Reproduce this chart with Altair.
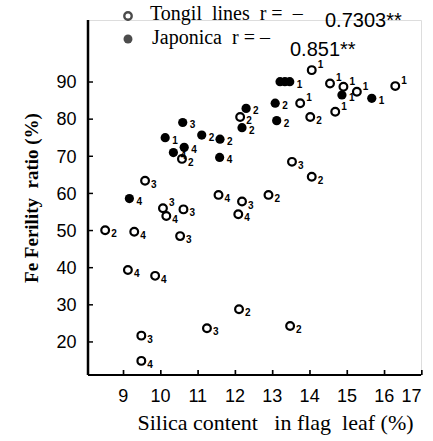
import altair as alt
import pandas as pd

# Tongil lines (open circles)
tongil_x = [8.53, 9.31, 10.54, 9.14, 9.87, 9.50, 9.50, 11.26, 12.12, 13.49,
            9.60, 10.08, 10.17, 10.63, 11.57, 12.20, 12.10, 13.54, 14.07, 12.91,
            14.07, 14.56, 14.92, 15.28, 16.31, 13.76, 14.03, 14.70, 12.15, 10.59]
tongil_y = [50.3, 49.9, 48.7, 39.6, 38.0, 21.9, 15.1, 23.9, 29.0, 24.5,
            63.6, 56.2, 54.1, 55.9, 59.8, 58.0, 54.6, 68.7, 64.7, 59.8,
            93.4, 89.8, 88.9, 87.6, 89.1, 84.5, 80.8, 82.2, 80.8, 69.5]
tongil_lab = ["2", "4", "3", "4", "4", "3", "4", "3", "2", "2",
              "3", "3", "4", "3", "4", "3", "4", "3", "2", "2",
              "1", "1", "1", "1", "1", "1", "2", "1", "2", "2"]
# label drawn above-right (superscript) instead of below-right
tongil_sup = [False] * 11 + [True] + [False] * 8 + [True] * 6 + [False, True, False, False]

# Japonica (filled circles)
japonica_x = [9.18, 10.61, 10.14, 11.12, 11.61, 10.65, 10.36, 11.60, 12.31, 12.20,
              13.09, 13.13, 13.22, 13.35, 13.48, 14.88, 15.68]
japonica_y = [58.8, 79.3, 75.2, 75.9, 74.8, 72.6, 71.2, 69.9, 83.1, 77.9,
              84.5, 79.8, 90.3, 90.3, 90.3, 86.7, 85.8]
japonica_lab = ["4", "3", "1", "2", "2", "4", "4", "4", "2", "2",
                "2", "2", "", "", "1", "1", "1"]

x_ticks = [9, 10, 11, 12, 13, 14, 15, 16, 17]
y_ticks = [20, 30, 40, 50, 60, 70, 80, 90]
x_range = [8.07, 17.0]
y_range = [11.3, 106.9]

NB = "\u00a0"
x_title = f"Silica{NB}content{NB}{NB}{NB}in{NB}flag{NB}{NB}leaf{NB}(%)"
y_title = f"Fe{NB}Ferility{NB}{NB}ratio{NB}(%)"
legend_1 = f"Tongil{NB}{NB}lines{NB}{NB}r{NB}={NB}{NB}–"
legend_1r = "0.7303**"
legend_2 = f"Japonica{NB}{NB}r{NB}={NB}–"
legend_2r = "0.851**"

tong = pd.DataFrame({"x": tongil_x, "y": tongil_y, "lab": tongil_lab, "sup": tongil_sup})
jap = pd.DataFrame({"x": japonica_x, "y": japonica_y, "lab": japonica_lab})

xs = alt.Scale(domain=x_range, nice=False, zero=False)
ys = alt.Scale(domain=y_range, nice=False, zero=False)

SERIF = "Liberation Serif"
NUM = "Liberation Sans"

X = alt.X("x:Q", scale=xs, axis=alt.Axis(
    values=x_ticks, domain=False, ticks=False, grid=False, title=x_title, labelFont=NUM,
    labelFontSize=18, labelColor="black", labelPadding=12,
    titleFont=SERIF, titleFontSize=22, titleFontWeight="normal", titleColor="black",
    titlePadding=7, titleX=187))
Y = alt.Y("y:Q", scale=ys, axis=alt.Axis(
    values=y_ticks, domain=False, ticks=False, grid=False, title=y_title, labelFont=NUM,
    labelFontSize=18, labelColor="black", labelPadding=12,
    titleFont=SERIF, titleFontSize=19, titleFontWeight="bold", titleColor="black",
    titlePadding=14))

open_pts = alt.Chart(tong).mark_point(
    shape="circle", size=60, strokeWidth=2.2, color="black", filled=False, opacity=1
).encode(x=X, y=Y)

filled_pts = alt.Chart(jap).mark_point(
    shape="circle", size=85, color="black", filled=True, opacity=1
).encode(x=alt.X("x:Q", scale=xs), y=alt.Y("y:Q", scale=ys))

lab_style = dict(font=NUM, fontSize=10, fontWeight="bold", color="black", align="left")

open_lab_low = alt.Chart(tong).transform_filter("!datum.sup").mark_text(
    dx=6, dy=4, **lab_style).encode(x="x:Q", y="y:Q", text="lab:N")
open_lab_up = alt.Chart(tong).transform_filter("datum.sup").mark_text(
    dx=6, dy=-5, **lab_style).encode(x="x:Q", y="y:Q", text="lab:N")
jap_lab = alt.Chart(jap).mark_text(dx=7, dy=3, **lab_style).encode(
    x="x:Q", y="y:Q", text="lab:N")

# axis lines drawn as paths from the scale domain
yaxis_line = alt.Chart(pd.DataFrame({"x": [x_range[0], x_range[0]], "y": y_range})).mark_line(
    color="black", strokeWidth=2.5, clip=False).encode(x="x:Q", y="y:Q")
xaxis_line = alt.Chart(pd.DataFrame({"x": x_range, "y": [y_range[0], y_range[0]]})).mark_line(
    color="black", strokeWidth=2, clip=False).encode(x="x:Q", y="y:Q")

# inward ticks
ytick = alt.Chart(pd.DataFrame({"y": y_ticks})).transform_calculate(
    y2="datum.y + 0.4").mark_rect(color="black").encode(
    y="y:Q", y2="y2:Q", x=alt.value(0), x2=alt.value(5))
xtick = alt.Chart(pd.DataFrame({"x": x_ticks})).transform_calculate(
    x2="datum.x + 0.045").mark_rect(color="black").encode(
    x="x:Q", x2="x2:Q", y=alt.value(350), y2=alt.value(355))

leg_open = alt.Chart(pd.DataFrame({"a": [0]})).mark_point(
    shape="circle", size=55, strokeWidth=2.4, color="black", filled=False, clip=False
).encode(x=alt.value(40), y=alt.value(-4))
leg_fill = alt.Chart(pd.DataFrame({"a": [0]})).mark_point(
    shape="circle", size=80, color="black", filled=True, clip=False
).encode(x=alt.value(40), y=alt.value(19))

def legtext(txt, x, y, size, font):
    return alt.Chart(pd.DataFrame({"t": [txt]})).mark_text(
        align="left", baseline="alphabetic", fontSize=size, font=font, color="black"
    ).encode(x=alt.value(x), y=alt.value(y), text="t:N")

leg = (legtext(legend_1, 62, 0, 20, SERIF) + legtext(legend_1r, 237, 7, 20, NUM)
       + legtext(legend_2, 64, 24, 20, SERIF) + legtext(legend_2r, 202, 36, 20, NUM))

chart = alt.layer(
    open_pts, filled_pts, open_lab_low, open_lab_up, jap_lab, yaxis_line, xaxis_line,
    ytick, xtick, leg_open, leg_fill, leg
).properties(
    width=333, height=355,
    autosize=alt.AutoSizeParams(type="none"),
    padding={"left": 88, "top": 20, "right": 12, "bottom": 66},
).configure_view(stroke=None).configure(background="white")

chart.save("out.html", embed_options={"renderer": "svg", "actions": False})
